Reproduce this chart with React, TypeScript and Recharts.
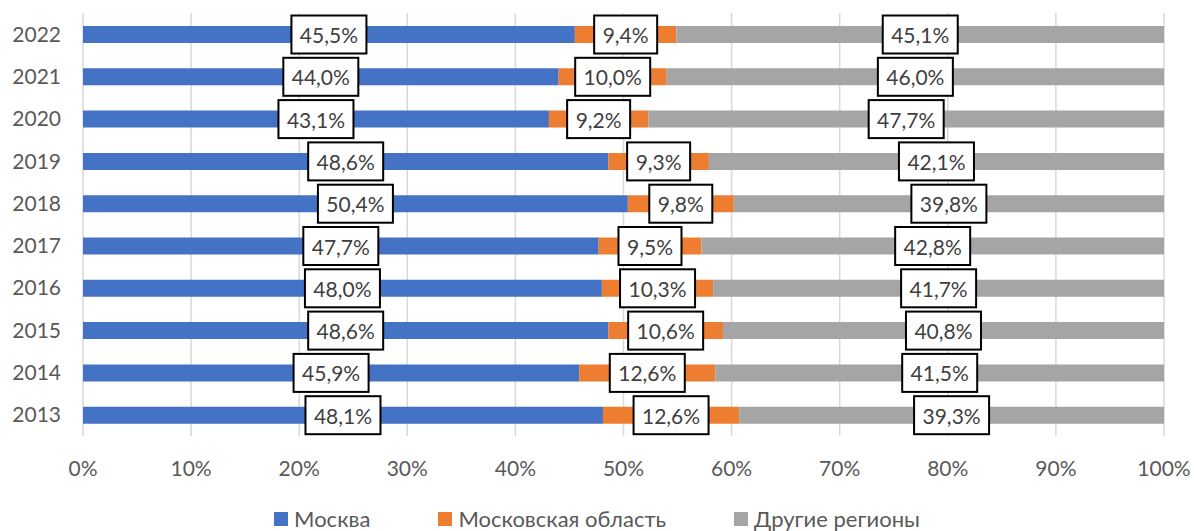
import React from "react";
import { Bar, BarChart, CartesianGrid, LabelList, Legend, XAxis, YAxis } from "recharts";

const years = ["2022", "2021", "2020", "2019", "2018", "2017", "2016", "2015", "2014", "2013"];
const moscow = [45.5, 44.0, 43.1, 48.6, 50.4, 47.7, 48.0, 48.6, 45.9, 48.1];
const oblast = [9.4, 10.0, 9.2, 9.3, 9.8, 9.5, 10.3, 10.6, 12.6, 12.6];
const other = [45.1, 46.0, 47.7, 42.1, 39.8, 42.8, 41.7, 40.8, 41.5, 39.3];
const xTicks = [0, 10, 20, 30, 40, 50, 60, 70, 80, 90, 100];

const series = [
  { key: "moscow", name: "Москва", color: "#4472c4" },
  { key: "oblast", name: "Московская область", color: "#ed7d31" },
  { key: "other", name: "Другие регионы", color: "#a5a5a5" },
];

const data = years.map((year, i) => ({
  year,
  moscow: moscow[i],
  oblast: oblast[i],
  other: other[i],
}));

const FONT = "Lato, 'Open Sans', sans-serif";
const FS = 21;
const fmt = (v: number) => v.toFixed(1).replace(".", ",") + "%";

let ctx: CanvasRenderingContext2D | null = null;
function textWidth(s: string) {
  if (!ctx) ctx = document.createElement("canvas").getContext("2d");
  if (!ctx) return s.length * 12;
  ctx.font = `${FS}px ${FONT}`;
  return ctx.measureText(s).width;
}

function BoxLabel(props: any) {
  const { x, y, width, height, value } = props;
  const cx = x + width / 2;
  const cy = y + height / 2;
  const label = fmt(value);
  const w = Math.round(textWidth(label) + 17);
  const h = 38;
  return (
    <g>
      <rect x={cx - w / 2} y={cy - h / 2} width={w} height={h} fill="#fff" stroke="#000" strokeWidth={2} />
      <text
        x={cx}
        y={cy}
        textAnchor="middle"
        dominantBaseline="central"
        fontSize={FS}
        fontFamily={FONT}
        fill="#404040"
      >
        {label}
      </text>
    </g>
  );
}

function LegendBox() {
  return (
    <div
      style={{
        height: 40,
        width: 1194,
        display: "flex",
        justifyContent: "center",
        alignItems: "flex-end",
        fontFamily: FONT,
        fontSize: 22,
        color: "#595959",
        lineHeight: "25px",
      }}
    >
      {series.map((s, i) => (
        <div key={s.key} style={{ display: "flex", alignItems: "center", marginLeft: i ? 68 : 0 }}>
          <span style={{ display: "inline-block", width: 14, height: 14, background: s.color, marginRight: 6 }} />
          <span>{s.name}</span>
        </div>
      ))}
    </div>
  );
}

export default function App() {
  return (
    <div style={{ position: "absolute", left: 0, top: 0, width: 1194, height: 531, background: "#fff" }}>
      <BarChart
        width={1194}
        height={531}
        data={data}
        layout="vertical"
        margin={{ top: 13, right: 30, bottom: 0, left: 0 }}
      >
        <CartesianGrid horizontal={false} stroke="#d9d9d9" strokeWidth={1.5} />
        <XAxis
          type="number"
          domain={[0, 100]}
          ticks={xTicks}
          tickFormatter={(v) => `${v}%`}
          axisLine={false}
          tickLine={false}
          tickSize={0}
          tickMargin={25}
          height={55}
          interval={0}
          tick={{ fontSize: FS, fill: "#595959", fontFamily: FONT }}
        />
        <YAxis
          type="category"
          dataKey="year"
          width={83}
          axisLine={false}
          tickLine={false}
          tickSize={0}
          tickMargin={22}
          tick={{ fontSize: FS, fill: "#595959", fontFamily: FONT }}
        />
        <Legend verticalAlign="bottom" wrapperStyle={{ left: 0, width: 1194 }} content={() => <LegendBox />} />
        {series.map((s) => (
          <Bar key={s.key} dataKey={s.key} name={s.name} stackId="a" fill={s.color} barSize={17} isAnimationActive={false}>
            <LabelList dataKey={s.key} content={BoxLabel} />
          </Bar>
        ))}
      </BarChart>
    </div>
  );
}
